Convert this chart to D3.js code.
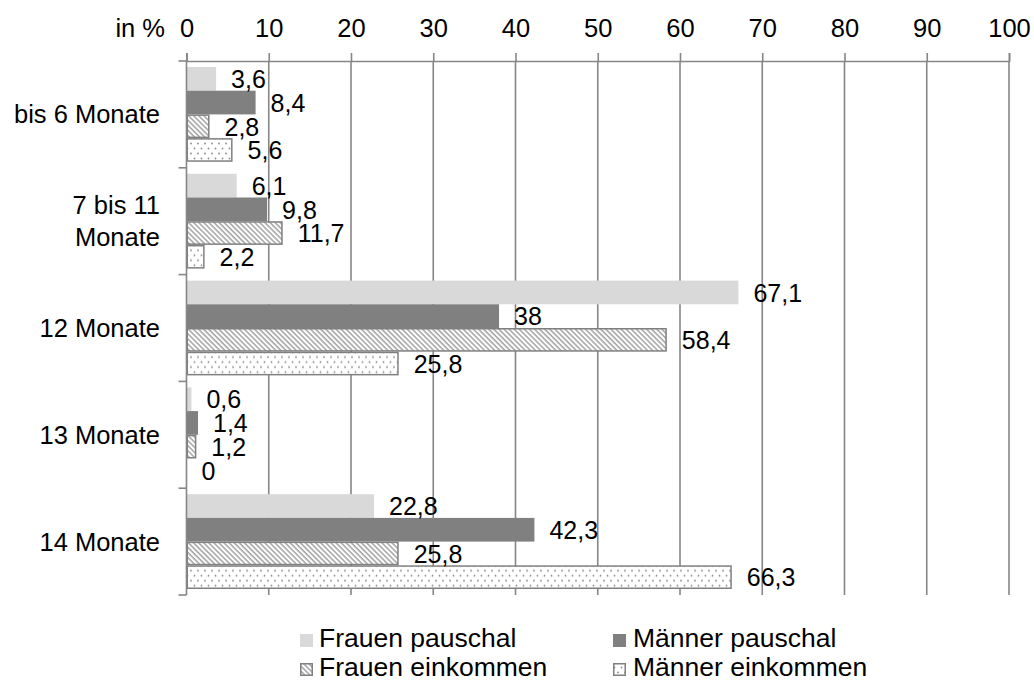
<!DOCTYPE html>
<html>
<head>
<meta charset="utf-8">
<script src="https://cdn.jsdelivr.net/npm/d3@7"></script>
<style>
  html, body { margin: 0; padding: 0; background: #fff; }
  svg { display: block; font-family: "Liberation Sans", Arial, sans-serif; }
</style>
</head>
<body>
<svg id="chart" width="1034" height="682"></svg>
<script>
const categories = ["bis 6 Monate", "7 bis 11\nMonate", "12 Monate", "13 Monate", "14 Monate"];
const seriesNames = ["Frauen pauschal", "Männer pauschal", "Frauen einkommen", "Männer einkommen"];
const frauenPauschal = [3.6, 6.1, 67.1, 0.6, 22.8];
const maennerPauschal = [8.4, 9.8, 38, 1.4, 42.3];
const frauenEinkommen = [2.8, 11.7, 58.4, 1.2, 25.8];
const maennerEinkommen = [5.6, 2.2, 25.8, 0, 66.3];
const xTicks = [0, 10, 20, 30, 40, 50, 60, 70, 80, 90, 100];
const axisTitle = "in %";

const seriesValues = [frauenPauschal, maennerPauschal, frauenEinkommen, maennerEinkommen];

(function () {
const svg = d3.select("#chart");
const pLeft = 186.5, pRight = 1009, pTop = 61, pBottom = 595;
const grid = "#868686";
const fontFam = "Liberation Sans, Arial, sans-serif";

// patterns
const defs = svg.append("defs");
const hatch = defs.append("pattern").attr("id", "hatch")
  .attr("patternUnits", "userSpaceOnUse").attr("width", 3.6).attr("height", 3.6)
  .attr("patternTransform", "rotate(-45)");
hatch.append("rect").attr("width", 3.6).attr("height", 3.6).attr("fill", "#fff");
hatch.append("line").attr("x1", 1).attr("x2", 1).attr("y1", 0).attr("y2", 3.6)
  .attr("stroke", "#8a8a8a").attr("stroke-width", 1.2);
const dots = defs.append("pattern").attr("id", "dots")
  .attr("patternUnits", "userSpaceOnUse").attr("width", 7).attr("height", 10);
dots.append("rect").attr("width", 7).attr("height", 10).attr("fill", "#fff");
dots.append("circle").attr("cx", 2).attr("cy", 2.5).attr("r", 0.9).attr("fill", "#8c8c8c");
dots.append("circle").attr("cx", 5.5).attr("cy", 7.5).attr("r", 0.9).attr("fill", "#8c8c8c");

const styles = [
  { fill: "#d9d9d9", stroke: "none" },
  { fill: "#808080", stroke: "none" },
  { fill: "url(#hatch)", stroke: "#808080" },
  { fill: "url(#dots)", stroke: "#808080" }
];

const x = d3.scaleLinear().domain([0, 100]).range([pLeft, pRight]);
const y = d3.scaleBand().domain(categories).range([pTop, pBottom]).paddingInner(0).paddingOuter(0);
const yi = d3.scaleBand().domain(d3.range(seriesNames.length)).range([0, y.bandwidth()]).paddingInner(0).paddingOuter(0.253);

// gridlines
svg.append("g").selectAll("line").data(xTicks.filter(t => t > 0)).join("line")
  .attr("x1", d => x(d)).attr("x2", d => x(d))
  .attr("y1", pTop).attr("y2", pBottom)
  .attr("stroke", grid).attr("stroke-width", 1.6);

// top axis
const topAxis = d3.axisTop(x).tickValues(xTicks).tickSize(8).tickFormat(d3.format("d"));
const gTop = svg.append("g").attr("transform", `translate(0,${pTop})`).call(topAxis);
gTop.select(".domain").attr("stroke", grid).attr("stroke-width", 1.6);
gTop.selectAll(".tick line").attr("stroke", grid).attr("stroke-width", 1.6);
gTop.selectAll(".tick text").attr("font-size", 25.5).attr("fill", "#000")
  .attr("font-family", fontFam).attr("dy", null).attr("y", -24);

svg.append("text").attr("x", 165).attr("y", 37).attr("text-anchor", "end")
  .attr("font-size", 25.5).attr("fill", "#000").text(axisTitle);

// bars
const groups = svg.append("g").selectAll("g").data(categories).join("g")
  .attr("transform", d => `translate(0,${y(d)})`);

groups.each(function(cat, ci) {
  const g = d3.select(this);
  seriesValues.forEach((vals, si) => {
    const v = vals[ci];
    const st = styles[si];
    const w = x(v) - x(0);
    const inset = st.stroke !== "none" ? 0.75 : 0;
    if (w > 0) {
      g.append("rect")
        .attr("x", x(0) + inset)
        .attr("y", yi(si) + inset)
        .attr("width", Math.max(0, w - 2 * inset))
        .attr("height", yi.bandwidth() - 2 * inset)
        .attr("fill", st.fill)
        .attr("stroke", st.stroke).attr("stroke-width", 1.5);
    }
  });
});

// left axis
svg.append("line").attr("x1", pLeft).attr("x2", pLeft).attr("y1", pTop).attr("y2", pBottom)
  .attr("stroke", grid).attr("stroke-width", 1.6);
const bounds = categories.map(c => y(c)).concat([pBottom]);
svg.append("g").selectAll("line").data(bounds).join("line")
  .attr("x1", pLeft - 8).attr("x2", pLeft).attr("y1", d => d).attr("y2", d => d)
  .attr("stroke", grid).attr("stroke-width", 1.6);

// data labels
groups.each(function(cat, ci) {
  const g = d3.select(this);
  seriesValues.forEach((vals, si) => {
    const v = vals[ci];
    g.append("text")
      .attr("x", x(v) + 15)
      .attr("y", yi(si) + yi.bandwidth() / 2)
      .attr("dy", "0.37em")
      .attr("font-size", 25).attr("fill", "#000")
      .text(String(v).replace(".", ","));
  });
});

// category labels
categories.forEach(c => {
  const lines = c.split("\n");
  const cy = y(c) + y.bandwidth() / 2;
  const t = svg.append("text").attr("text-anchor", "end").attr("font-size", 25.5).attr("fill", "#000");
  const lh = 31.5;
  lines.forEach((ln, i) => {
    t.append("tspan").attr("x", 160)
      .attr("y", cy + 9 + (i - (lines.length - 1) / 2) * lh)
      .text(ln);
  });
});

// legend
const legendPos = [
  { sx: 300, tx: 319, by: 647 },
  { sx: 613, tx: 633, by: 647 },
  { sx: 300, tx: 319, by: 676 },
  { sx: 613, tx: 633, by: 676 }
];
const lg = svg.append("g").selectAll("g").data(seriesNames).join("g");
lg.append("rect")
  .attr("x", (d, i) => legendPos[i].sx + (styles[i].stroke !== "none" ? 0.75 : 0))
  .attr("y", (d, i) => legendPos[i].by - 13 + (styles[i].stroke !== "none" ? 0.75 : 0))
  .attr("width", (d, i) => 13 - (styles[i].stroke !== "none" ? 1.5 : 0))
  .attr("height", (d, i) => 13 - (styles[i].stroke !== "none" ? 1.5 : 0))
  .attr("fill", (d, i) => styles[i].fill)
  .attr("stroke", (d, i) => styles[i].stroke).attr("stroke-width", 1.5);
lg.append("text")
  .attr("x", (d, i) => legendPos[i].tx).attr("y", (d, i) => legendPos[i].by)
  .attr("font-size", 26.5).attr("fill", "#000")
  .text(d => d);
})();
</script>
</body>
</html>
